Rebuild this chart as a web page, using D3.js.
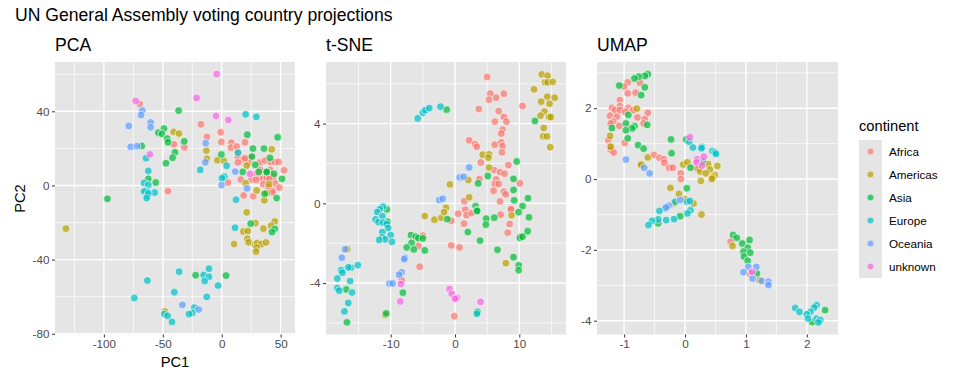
<!DOCTYPE html>
<html><head><meta charset="utf-8">
<script src="https://cdn.jsdelivr.net/npm/d3@7/dist/d3.min.js"></script>
<style>html,body{margin:0;padding:0;background:#fff}svg{display:block}text{font-family:"Liberation Sans",Arial,sans-serif}</style>
</head><body><svg id="c" width="960" height="384"></svg>
<script>
const continents=["Africa","Americas","Asia","Europe","Oceania","unknown"];
const colors=["#F8766D","#B79F00","#00BA38","#00BFC4","#619CFF","#F564E3"];

const pcaAfrica=[[-69.6,44],[-17.6,33],[-.9,28.7],[-12.5,26.2],[-.3,23.5],[-40.5,22.2],[-31.7,20.6],[8.2,23.1],[7.9,20.4],[12.7,21],[19.8,23.3],[13.8,17.4],[13.8,15.2],[24.9,14.9],[18.3,13.8],[13.8,12.4],[22.6,12.4],[32.5,12.4],[36.7,13.4],[41.5,12.7],[45.2,12.7],[48.3,12.7],[52.9,8.2],[28.8,5.9],[31.9,4.8],[35.3,3.6],[38.2,4],[16.1,3.2],[25.4,3.2],[29.1,3],[35.3,.7],[45.2,1.2],[48.9,-1.1],[43,-2.7],[5.3,1.6],[18.6,-5.4],[26.8,-5.8],[-45.6,-3.1],[41,8.4],[36.7,7.5],[43.8,4.8],[40.4,3.6],[32.5,8.4],[19.8,14.7],[39.6,-.9],[43.2,-3.8]];
const pcaAmericas=[[-132.2,-23.3],[36.2,-8],[21.2,-14.5],[28.6,-20.3],[45,-19.4],[41.9,-21.7],[35.4,-23.3],[18.4,-24.8],[22.1,-24.6],[21.8,-28.7],[22.9,-30.7],[10.5,-31.6],[28.3,-31.9],[30.3,-31],[33.7,-31.6],[37.6,-30.7],[29.7,-33.4],[29.1,-35.7],[-48.1,-68],[-40.8,28.9],[-36.3,28],[-13,18.8],[-12.5,14.5],[-3.7,13.6],[1.9,13.2],[42.4,19.5],[21.2,10.7],[20.3,1.2],[40.1,.7],[29.7,-2.7],[38.2,-4.2]];
const pcaAsia=[[-36.6,40.4],[-49,30.7],[-53.8,28.5],[-50.7,27.8],[-46.2,25.3],[-45.6,23.3],[-31.8,23.8],[-39.7,17.9],[-41.7,15],[-47.3,12],[21.7,27.4],[47.5,26],[26.5,19.9],[35.9,19.9],[-.3,16.7],[25.7,15.6],[41,14.9],[28.5,11.1],[17.8,7.3],[31.4,7.3],[38.2,7.5],[38.2,7.2],[44.4,6.3],[51.2,3.6],[36.4,-4.5],[46.6,-6.8],[-56,1.6],[-62.3,3.6],[-67.9,21.3],[-97,-7.2],[24.6,-20.6],[45,-23.5],[42.7,-25.1],[-22.1,-48.4],[3.7,-48.6]];
const pcaEurope=[[12.2,-7.7],[11.3,-22.8],[-36.2,-46.5],[-10.8,-44.9],[-15.3,-48.3],[-10.8,-49.3],[-14.4,-51.5],[-63.1,-51.3],[-3.1,-54],[-40.2,-57.6],[-74.2,-60.7],[-12.7,-60.1],[-23.2,-65.9],[-24.9,-68.7],[-27.8,-69.4],[-48.7,-69.4],[-45.9,-70.3],[-42.2,-73.6],[20.3,38.4],[29.4,37],[4.2,10.6],[-18.2,8.4],[2.2,4.8],[.2,3.9],[-56.9,-3.8],[13.8,17.7],[-64.2,14.7],[-62.3,7.9],[-65.9,1.4],[-62.3,.3],[-64.2,-2.9],[-65.9,-3.3],[-63.1,-5.4],[-62.3,-4.2],[-63.7,-6.8]];
const pcaOceania=[[-33.4,-64.4],[-19.5,-66.9],[-67.4,40.5],[-68.5,38],[-78.9,32.1],[-77.3,20.8],[-71.9,21.2],[-60.3,34],[-60.3,31.4],[-13.6,22.8],[-13.9,12.5],[11.5,7.5],[-.1,.2],[21.5,-1.6]];
const pcaUnknown=[[-4.3,60.1],[-21.3,47.2],[-4.9,37.5],[5.6,35.3],[24,6.3],[-60.9,16.8],[-73,45.6]];

const tsneAfrica=[[5,6.34],[5.5,5.5],[5.3,5.2],[6.4,5.3],[7.6,5.5],[10.5,4.88],[3.7,4.73],[6.8,4.63],[7.6,4.33],[8,4.1],[6.2,4.1],[7.4,3.7],[7.2,3.5],[2.2,3.16],[3.1,2.97],[3.4,2.84],[6.2,2.94],[7.2,3.06],[7.4,2.87],[7.3,2.56],[4,2.05],[8.3,1.92],[6.1,1.67],[7,1.57],[7.7,1.49],[3.8,1.22],[6.4,1.2],[6.2,.97],[6.8,.97],[10.1,1],[6,.63],[7.6,.58],[7.9,.45],[7,.1],[1.45,.11],[8.75,-.27],[1.6,-.32],[8.7,-.3],[.5,-.52],[1.8,-.59],[2.57,-.49],[7.1,-.57],[-.6,-.87],[1.4,-1.02],[8.5,-1.04],[8.2,-1.47],[10.1,-1.67],[-5,-1.62],[-5.7,-2.14],[-.6,-2.11],[.7,-2.21],[-5.5,-3.18],[-8.3,-3.85],[-.1,-5.66]];
const tsneAmericas=[[13.5,6.47],[14.4,6.4],[14,6.07],[14.4,6.07],[15.2,6.09],[12.3,5.72],[14.35,5.35],[15.5,5.3],[13.4,5.1],[14.7,5],[13.9,4.6],[13.3,4.4],[14.6,4.33],[14.9,4.33],[13.8,3.78],[13.7,3.36],[14.3,3.36],[14.8,2.82],[4.3,2.44],[5.3,2.46],[5.2,2.29],[5.3,1.79],[2.07,1.17],[-.78,.95],[2.2,.3],[-1.4,-.22],[-16.75,-2.3],[-4.7,-.64],[-3.2,-.82],[-2.1,-.72],[-1.7,-.44],[7.9,-3],[-10.85,-5.6],[8.8,-.6]];
const tsneAsia=[[-1.3,4.7],[12.43,4.13],[9.6,2.1],[5.1,1.37],[3.6,1],[9.1,1.23],[9.1,.67],[9.2,.15],[11.35,.26],[10.5,-.14],[3.2,-.14],[3.4,-.34],[-10.6,-.3],[-10.5,-.92],[-6.85,-1.59],[-6.1,-1.67],[-5.7,-1.74],[-5,-1.76],[-6.75,-1.98],[-7.5,-2.21],[-6.4,-2.31],[-4.7,-2.36],[-1.2,-.79],[2,-1.44],[3.9,-1.87],[3.45,-.39],[4.85,-.77],[4.8,-1.07],[6.1,-.72],[9.9,-.44],[11.5,-.7],[11.3,-1.4],[10.1,-1.73],[10.5,-1.67],[6.6,-2.33],[9.1,-2.7],[9.9,-3.11],[9.9,-3.35],[-16.9,-4.32],[-8.1,-4.48],[-10.7,-5.52],[-16.8,-5.97],[3.5,-5.45]];
const tsneEurope=[[-5.8,4.26],[-5,4.55],[-4.6,4.68],[-4,4.78],[-2.25,4.85],[-11.2,-.17],[-11.7,-.29],[-12.1,-.44],[-11.3,-.64],[-12.35,-.8],[-11.9,-.94],[-11.2,-.97],[-10.6,-1.04],[-10.4,-1.24],[-11.3,-1.44],[-10,-1.59],[-11.3,-1.71],[-10.85,-1.81],[-11.8,-1.84],[-9.8,-1.93],[-15.1,-3.1],[-16.2,-3.23],[-16.6,-3.21],[-17.7,-3.35],[-17.5,-3.48],[-18.3,-3.77],[-16.3,-3.9],[-18.3,-4.25],[-18,-4.38],[-16,-4.47],[-16.6,-5],[-17.2,-5.42],[3.4,-5.54]];
const tsneOceania=[[-2.45,.17],[-1.9,.23],[2.2,1.8],[.73,1.3],[1.35,1.33],[-17.1,-2.3],[-17.6,-2.73],[-7.8,-2.73],[-7.9,-2.8],[-8.3,-3.46],[-8.7,-3.58],[-10.2,-4.02],[-9.7,-4.02]];
const tsneUnknown=[[-8.4,-4.05],[-8.5,-4.92],[-.85,-4.3],[-.5,-4.54],[.3,-4.74],[0,-4.79],[3.97,-4.94]];

const umapAfrica=[[-.94,2.73],[-.74,2.72],[-1,2.61],[-.94,2.42],[-.81,2.44],[-1.07,2.23],[-1.2,2.01],[-1.07,2.06],[-.93,2.01],[-1.15,1.95],[-1.07,1.95],[-1.23,1.79],[-1.12,1.76],[-.98,1.9],[-.85,1.95],[-.61,1.87],[-.78,1.74],[-.66,1.69],[-1.18,1.62],[-1.22,1.57],[-1.08,1.5],[-.68,1.57],[-1.26,1.1],[-.99,1.02],[-1.23,.93],[-1.22,.83],[-1.17,.75],[-.51,.68],[-.42,.6],[-.35,.56],[-.34,.46],[-.26,.32],[-.2,.32],[-.07,.16],[-.07,0],[.19,.3],[.75,-1.77],[1.07,-2.68]];
const umapAmericas=[[-.79,1.99],[-1.23,1.22],[-1.22,.91],[-.61,.61],[-.72,.38],[-.03,.41],[.04,.47],[.38,.42],[.53,.37],[.41,.27],[.22,.3],[.25,.21],[.34,.16],[.49,.11],[.45,.05],[.44,0],[.26,-.05],[-.24,-.25],[-.1,-.42],[0,-.57],[.14,-.69],[.27,-1],[-.72,.41],[-.19,-.69],[.78,-1.89],[1.22,-2.85]];
const umapAsia=[[-.61,2.96],[-.66,2.91],[-.76,2.89],[-.83,2.84],[-.66,2.59],[-.72,2.37],[-1.08,2.64],[-.93,1.81],[-.97,1.57],[-.83,1.49],[-.87,1.43],[-.97,1.38],[-.62,1.53],[-1.2,1.44],[-.94,1.15],[-.77,.96],[-.68,.86],[-.23,1.12],[-.22,.73],[.02,1.12],[.09,.32],[.29,.49],[.03,-.26],[-.08,-1.05],[-.44,-1.25],[.79,-1.58],[.85,-1.66],[.94,-1.82],[1.06,-1.72],[1.03,-1.94],[.96,-2.05],[1.07,-2.08],[.97,-2.19],[1.03,-2.31],[1.18,-2.66],[2.3,-3.7],[2.09,-4.04]];
const umapEurope=[[.07,1.05],[.13,.89],[.28,.91],[.27,.87],[.45,.79],[.49,.75],[.51,.71],[-.16,-.64],[-.33,-.83],[-.42,-.9],[.03,-.64],[.08,-.62],[.09,-.88],[.04,-.97],[-.18,-1.13],[-.31,-1.16],[-.44,-1.14],[-.54,-1.18],[-.6,-1.3],[1.81,-3.64],[1.88,-3.75],[2.16,-3.56],[2.12,-3.63],[2.06,-3.75],[2,-3.82],[2.02,-3.94],[2.16,-3.94],[2.22,-3.98],[2.19,-4.05]];
const umapOceania=[[-.97,.55],[-.67,.32],[-.58,.16],[-.27,-.75],[-.31,-.8],[-.08,-.59],[1.04,-2.48],[1.17,-2.48],[.96,-2.63],[1.11,-2.81],[1.26,-2.88],[1.37,-2.9],[1.37,-2.995]];
const umapUnknown=[[.08,1.18],[.2,.56],[.31,.63],[.19,.47],[.28,.38],[1.1,-2.62]];

const pcaXTicks=[-100,-50,0,50], pcaYTicks=[40,0,-40,-80];
const pcaXMinor=[-125,-75,-25,25], pcaYMinor=[60,20,-20,-60];
const tsneXTicks=[-10,0,10], tsneYTicks=[4,0,-4];
const tsneXMinor=[-15,-5,5,15], tsneYMinor=[6,2,-2,-6];
const umapXTicks=[-1,0,1,2], umapYTicks=[2,0,-2,-4];
const umapXMinor=[-.5,.5,1.5], umapYMinor=[3,1,-1,-3];

const panels=[
 {title:"PCA",xd:[-141.5,62.2],yd:[66.6,-80.4],x0:55,x1:295,xt:pcaXTicks,yt:pcaYTicks,xm:pcaXMinor,ym:pcaYMinor,
  data:[pcaAfrica,pcaAmericas,pcaAsia,pcaEurope,pcaOceania,pcaUnknown]},
 {title:"t-SNE",xd:[-20.06,17.26],yd:[7.09,-6.58],x0:326,x1:566,xt:tsneXTicks,yt:tsneYTicks,xm:tsneXMinor,ym:tsneYMinor,
  data:[tsneAfrica,tsneAmericas,tsneAsia,tsneEurope,tsneOceania,tsneUnknown]},
 {title:"UMAP",xd:[-1.445,2.512],yd:[3.305,-4.39],x0:597,x1:838,xt:umapXTicks,yt:umapYTicks,xm:umapXMinor,ym:umapYMinor,
  data:[umapAfrica,umapAmericas,umapAsia,umapEurope,umapOceania,umapUnknown]}
];
const panelTop=62,panelBottom=334.5;
const svg=d3.select("#c");
svg.append("text").attr("x",15).attr("y",21).attr("font-size",17.6).attr("fill","#000").text("UN General Assembly voting country projections");

panels.forEach(p=>{
  const x=d3.scaleLinear().domain(p.xd).range([p.x0,p.x1]);
  const y=d3.scaleLinear().domain(p.yd).range([panelTop,panelBottom]);
  const g=svg.append("g");
  g.append("rect").attr("x",p.x0).attr("y",panelTop).attr("width",p.x1-p.x0).attr("height",panelBottom-panelTop).attr("fill","#E5E5E5");
  p.xm.forEach(v=>g.append("line").attr("x1",x(v)).attr("x2",x(v)).attr("y1",panelTop).attr("y2",panelBottom).attr("stroke","#fff").attr("stroke-width",.7));
  p.ym.forEach(v=>g.append("line").attr("x1",p.x0).attr("x2",p.x1).attr("y1",y(v)).attr("y2",y(v)).attr("stroke","#fff").attr("stroke-width",.7));
  p.xt.forEach(v=>g.append("line").attr("x1",x(v)).attr("x2",x(v)).attr("y1",panelTop).attr("y2",panelBottom).attr("stroke","#fff").attr("stroke-width",1.4));
  p.yt.forEach(v=>g.append("line").attr("x1",p.x0).attr("x2",p.x1).attr("y1",y(v)).attr("y2",y(v)).attr("stroke","#fff").attr("stroke-width",1.4));

  p.data.forEach((arr,i)=>{
    g.append("g").selectAll("circle").data(arr).join("circle")
      .attr("cx",d=>x(d[0])).attr("cy",d=>y(d[1])).attr("r",3.9)
      .attr("fill",colors[i]).attr("fill-opacity",.7)
      .attr("stroke","#fff").attr("stroke-opacity",.7).attr("stroke-width",.9);
  });

  const ax=g.append("g").attr("transform",`translate(0,${panelBottom})`)
    .call(d3.axisBottom(x).tickValues(p.xt).tickSize(3).tickPadding(2.5).tickFormat(d=>String(d)));
  const ay=g.append("g").attr("transform",`translate(${p.x0},0)`)
    .call(d3.axisLeft(y).tickValues(p.yt).tickSize(3).tickPadding(2.5).tickFormat(d=>String(d)));
  [ax,ay].forEach(a=>{
    a.select(".domain").remove();
    a.selectAll("line").attr("stroke","#333").attr("stroke-width",1);
    a.selectAll("text").attr("fill","#4D4D4D").attr("font-size",11.7).attr("font-family",'"Liberation Sans",Arial,sans-serif');
  });
  svg.append("text").attr("x",p.x0).attr("y",51).attr("font-size",17.6).attr("fill","#000").text(p.title);
});

svg.append("text").attr("x",175).attr("y",367).attr("text-anchor","middle").attr("font-size",14.7).text("PC1");
svg.append("text").attr("transform","translate(24.5,198.5) rotate(-90)").attr("text-anchor","middle").attr("font-size",14.7).text("PC2");

svg.append("text").attr("x",859).attr("y",131).attr("font-size",14.7).text("continent");
const ky=d3.scaleBand().domain(continents).range([140,278]);
const lg=svg.append("g");
lg.selectAll("rect").data(continents).join("rect").attr("x",859).attr("y",d=>ky(d)).attr("width",23).attr("height",ky.bandwidth()).attr("fill","#E5E5E5");
lg.selectAll("circle").data(continents).join("circle").attr("cx",870.5).attr("cy",d=>ky(d)+ky.bandwidth()/2).attr("r",3.3)
  .attr("fill",(d,i)=>colors[i]).attr("fill-opacity",.7).attr("stroke","#fff").attr("stroke-opacity",.7).attr("stroke-width",.5);
lg.selectAll("text").data(continents).join("text").attr("x",889).attr("y",d=>ky(d)+ky.bandwidth()/2+4).attr("font-size",11.7).attr("fill","#000").text(d=>d);
</script></body></html>
